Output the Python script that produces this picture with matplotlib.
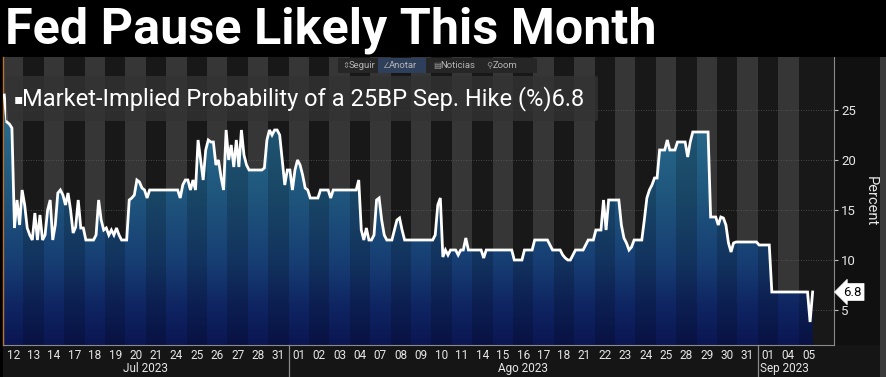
import matplotlib
matplotlib.use("Agg")
import matplotlib.pyplot as plt
import numpy as np
from matplotlib.patches import Rectangle, FancyBboxPatch
from matplotlib.colors import LinearSegmentedColormap
import matplotlib.transforms as mtransforms
from matplotlib.lines import Line2D

# ---------------- data ----------------
title = "Fed Pause Likely This Month"
series_name = "Market-Implied Probability of a 25BP Sep. Hike (%)"
last_value = 6.8

day_labels = ["12", "13", "14", "17", "18", "19", "20", "21", "24", "25", "26", "27", "28", "31",
              "01", "02", "03", "04", "07", "08", "09", "10", "11", "14", "15", "16", "17", "18",
              "21", "22", "23", "24", "25", "28", "29", "30", "31",
              "01", "04", "05"]
month_names = ["Jul 2023", "Ago 2023", "Sep 2023"]
month_day_counts = [14, 23, 3]

samples_per_day = 8
intraday = [
    [26.5, 23.8, 23.6, 23.2, 13.2, 16.0, 13.5, 17.0],   # Jul 12
    [15.5, 13.2, 12.5, 12.0, 14.7, 12.0, 14.5, 12.0],   # 13
    [12.5, 15.0, 16.0, 12.0, 13.5, 16.7, 17.0, 16.5],   # 14
    [15.5, 16.7, 15.0, 12.7, 13.3, 16.0, 13.2, 13.2],   # 17
    [12.0, 12.0, 12.0, 12.0, 12.5, 16.0, 14.0, 13.0],   # 18
    [13.2, 12.5, 13.0, 12.5, 13.2, 12.5, 12.0, 12.0],   # 19
    [12.0, 16.0, 16.2, 16.5, 18.0, 17.8, 17.2, 17.0],   # 20
    [16.2, 17.0, 17.0, 17.0, 17.0, 17.0, 17.0, 17.0],   # 21
    [17.0, 17.0, 17.0, 17.0, 17.0, 16.2, 17.5, 18.0],   # 24
    [18.0, 17.0, 18.0, 17.0, 22.0, 20.0, 18.0, 21.0],   # 25
    [22.0, 21.8, 21.8, 19.5, 20.0, 18.3, 17.0, 23.0],   # 26
    [20.0, 21.5, 19.3, 22.0, 19.3, 23.0, 20.5, 19.5],   # 27
    [19.0, 19.0, 19.0, 19.0, 19.0, 19.0, 19.2, 22.0],   # 28
    [23.0, 22.5, 23.0, 23.0, 22.5, 20.0, 17.5, 19.0],   # 31
    [19.0, 17.0, 19.0, 20.0, 19.5, 18.5, 17.2, 17.0],   # Aug 01
    [16.2, 16.2, 16.2, 16.2, 17.0, 17.0, 17.0, 17.0],   # 02
    [16.2, 17.0, 17.0, 17.0, 17.0, 17.0, 17.0, 17.0],   # 03
    [17.0, 17.0, 17.0, 18.0, 13.0, 12.0, 13.2, 12.0],   # 04
    [12.0, 12.5, 16.0, 16.2, 14.0, 12.5, 12.0, 12.0],   # 07
    [12.0, 13.0, 14.0, 14.2, 13.0, 12.0, 12.0, 12.0],   # 08
    [12.0, 12.0, 12.0, 12.0, 12.0, 12.0, 12.0, 12.0],   # 09
    [12.0, 12.5, 15.5, 16.2, 10.3, 11.0, 10.5, 11.0],   # 10
    [11.0, 11.0, 10.5, 11.0, 11.0, 12.2, 11.0, 11.0],   # 11
    [11.0, 11.0, 11.0, 11.0, 10.2, 11.0, 11.0, 11.0],   # 14
    [11.0, 11.0, 11.0, 11.0, 11.0, 11.0, 11.0, 11.0],   # 15
    [10.0, 10.0, 10.0, 10.0, 11.0, 11.0, 11.0, 11.0],   # 16
    [12.0, 12.0, 12.0, 12.0, 12.0, 12.0, 11.5, 11.0],   # 17
    [11.0, 11.0, 11.0, 10.5, 10.2, 10.0, 10.0, 10.5],   # 18
    [11.0, 11.0, 11.0, 11.0, 11.5, 12.0, 12.0, 12.0],   # 21
    [13.0, 13.0, 13.0, 16.0, 13.0, 16.0, 16.0, 16.0],   # 22
    [16.0, 16.0, 13.5, 12.2, 11.7, 11.0, 11.3, 12.0],   # 23
    [12.0, 12.0, 12.0, 14.0, 16.2, 17.0, 17.5, 18.2],   # 24
    [18.2, 21.0, 21.0, 21.0, 22.0, 21.0, 21.0, 21.0],   # 25
    [21.8, 21.8, 21.8, 21.8, 20.3, 21.8, 22.8, 22.8],   # 28
    [22.8, 22.8, 22.8, 22.8, 22.8, 14.3, 14.3, 14.3],   # 29
    [13.5, 14.3, 14.2, 13.5, 11.7, 10.8, 11.7, 11.8],   # 30
    [11.8, 11.8, 11.8, 11.8, 11.8, 11.8, 11.8, 11.8],   # 31
    [11.5, 11.5, 11.5, 11.5, 11.5, 6.8, 6.8, 6.8],      # Sep 01
    [6.8, 6.8, 6.8, 6.8, 6.8, 6.8, 6.8, 6.8],           # 04
    [6.8, 6.8, 6.8, 6.8, 3.8, 6.8],                     # 05 (partial)
]
y_ticks = [5, 10, 15, 20, 25]

# ---------------- figure ----------------
W, H = 886, 377
fig = plt.figure(figsize=(W / 100, H / 100), dpi=100, facecolor="black")

def fx(x):
    return x / W

def fy(y):
    return 1 - y / H

# background panels (below the axes)
fig.patches.append(Rectangle((fx(3), 0), fx(877), 32 / H, transform=fig.transFigure,
                             fc="#151515", ec="none", zorder=-5))
fig.patches.append(Rectangle((fx(834), fy(345)), fx(46), (345 - 57) / H, transform=fig.transFigure,
                             fc="#101010", ec="none", zorder=-5))
fig.patches.append(Rectangle((fx(880), 0), fx(6), fy(57), transform=fig.transFigure,
                             fc="#3a3a3a", ec="none", zorder=-5))

ax = fig.add_axes([fx(3), 32 / H, fx(834 - 3), (345 - 57) / H])
ax.set_facecolor("#181818")

n_days = len(day_labels)
x_max = (834 - 3) / 20.4
y_min, y_max = 1.5, 30.3

xs, ys = [], []
for i, vals in enumerate(intraday):
    for k, v in enumerate(vals):
        xs.append(i + (k + 0.5) / samples_per_day)
        ys.append(v)
xs = np.array(xs)
ys = np.array(ys)

# day stripes
for i in range(n_days):
    ax.axvspan(i, i + 1, color="#363636" if i % 2 == 0 else "#181818", lw=0, zorder=0)

# horizontal dotted grid
for t in y_ticks:
    ax.axhline(t, color="#5a5a5a", lw=0.6, ls=(0, (1, 2)), zorder=0.5)

# gradient fill under the line
poly = ax.fill_between(xs, ys, y_min, color="none", lw=0)
clip = poly.get_paths()[0]
cmap = LinearSegmentedColormap.from_list(
    "bbg", [(0.0, "#0b1652"), (0.15, "#0f2462"), (0.35, "#173f74"),
            (0.6, "#1f557c"), (1.0, "#2b7090")])
grad = np.linspace(0, 1, 256)[:, None]
img = ax.imshow(grad, extent=[0, n_days, y_min, 26.0], origin="lower", cmap=cmap,
                aspect="auto", zorder=1, interpolation="bilinear")
img.set_clip_path(clip, ax.transData)
for i in range(n_days):
    if i % 2 == 1:
        r = Rectangle((i, y_min), 1, 30, fc="black", alpha=0.18, lw=0, zorder=1.5)
        ax.add_patch(r)
        r.set_clip_path(clip, ax.transData)

ax.plot(xs, ys, color="white", lw=2.0, zorder=3, solid_joinstyle="miter")

ax.set_xlim(0, x_max)
ax.set_ylim(y_min, y_max)

# spines
ax.spines["top"].set_visible(False)
ax.spines["left"].set_color("#b8742a")
ax.spines["left"].set_linewidth(1.0)
ax.spines["bottom"].set_color("#8a8a8a")
ax.spines["right"].set_color("#8a8a8a")

# x ticks: day labels
ax.set_xticks(np.arange(n_days) + 0.5)
ax.set_xticklabels(day_labels, family="Roboto")
ax.tick_params(axis="x", length=0, pad=3, labelsize=8.5, labelcolor="#e6e6e6")

# y ticks on right
ax.yaxis.tick_right()
ax.set_yticks(y_ticks)
ax.set_yticklabels([str(t) for t in y_ticks], family="Roboto")
ax.tick_params(axis="y", length=3, width=0.8, color="#bbbbbb", pad=2,
               labelsize=9.5, labelcolor="#e6e6e6")

# month labels and separators
trans_x = mtransforms.blended_transform_factory(ax.transData, ax.transAxes)
start = 0
for j, (name, cnt) in enumerate(zip(month_names, month_day_counts)):
    end = start + cnt
    if j < len(month_names) - 1:
        ax.text((start + end) / 2, -0.083, name, transform=trans_x, ha="center", va="center",
                fontsize=8.5, color="#e6e6e6", family="Roboto", clip_on=False)
    else:
        ax.text(start + 0.1, -0.083, name, transform=trans_x, ha="left", va="center",
                fontsize=8.5, color="#e6e6e6", family="Roboto", clip_on=False)
    if j > 0:
        ax.add_line(Line2D([start, start], [-0.12, 0.0], transform=trans_x, color="#8a8a8a",
                           lw=0.9, clip_on=False))
    start = end

# last value tag
trans_y = mtransforms.blended_transform_factory(ax.transAxes, ax.transData)
ax.text(1.0115, last_value, f"{last_value:g}", transform=trans_y, ha="left", va="center",
        fontsize=9.5, color="black", family="Roboto", zorder=5, clip_on=False,
        bbox=dict(boxstyle="larrow,pad=0.15", fc="white", ec="white", lw=0.5))

fig.text(fx(871), fy(201), "Percent", rotation=270, ha="center", va="center",
         fontsize=10.5, color="#e6e6e6", family="Roboto")

# legend box
leg_box = FancyBboxPatch((fx(6), fy(121)), fx(592), (121 - 76) / H,
                         boxstyle="round,pad=0,rounding_size=0.004",
                         transform=fig.transFigure, fc="#333333", ec="none", alpha=0.8, zorder=2)
fig.patches.append(leg_box)
fig.text(fx(14), fy(99), "\u25aa", ha="left", va="center", fontsize=10, color="white",
         family="DejaVu Sans", zorder=3)
leg_text = fig.text(fx(22), fy(98.5), series_name + f"{last_value:g}",
                    ha="left", va="center", fontsize=15, color="white",
                    family="Roboto", zorder=3)

# toolbar
fig.patches.append(Rectangle((fx(338), fy(73)), fx(199), 15 / H, transform=fig.transFigure,
                             fc="#262626", ec="none", zorder=2))
fig.patches.append(Rectangle((fx(378), fy(73)), fx(48), 15 / H, transform=fig.transFigure,
                             fc="#2e3f5c", ec="none", zorder=2))
for icon, word, x0 in [("\u21d5", "Seguir", 342), ("\u2220", "Anotar", 382),
                       ("\u25a4", "Noticias", 433), ("\u26b2", "Zoom", 486)]:
    fig.text(fx(x0), fy(65.5), icon, ha="left", va="center", fontsize=6,
             color="#9a9a9a", family="DejaVu Sans", zorder=3)
    fig.text(fx(x0 + 7), fy(65.5), word, ha="left", va="center", fontsize=6.8,
             color="#b5b5b5", family="Roboto", zorder=3)

# title
title_text = fig.text(fx(5), fy(43), title, ha="left", va="baseline", fontsize=30,
                      color="white", weight="bold", family="Roboto")

# fit widths of title and legend text to the reference
fig.canvas.draw()
r = fig.canvas.get_renderer()
for t, target in [(title_text, 650), (leg_text, 563)]:
    bb = t.get_window_extent(renderer=r)
    t.set_fontsize(t.get_fontsize() * target / bb.width)

fig.savefig("out.png", dpi=100, facecolor="black")
